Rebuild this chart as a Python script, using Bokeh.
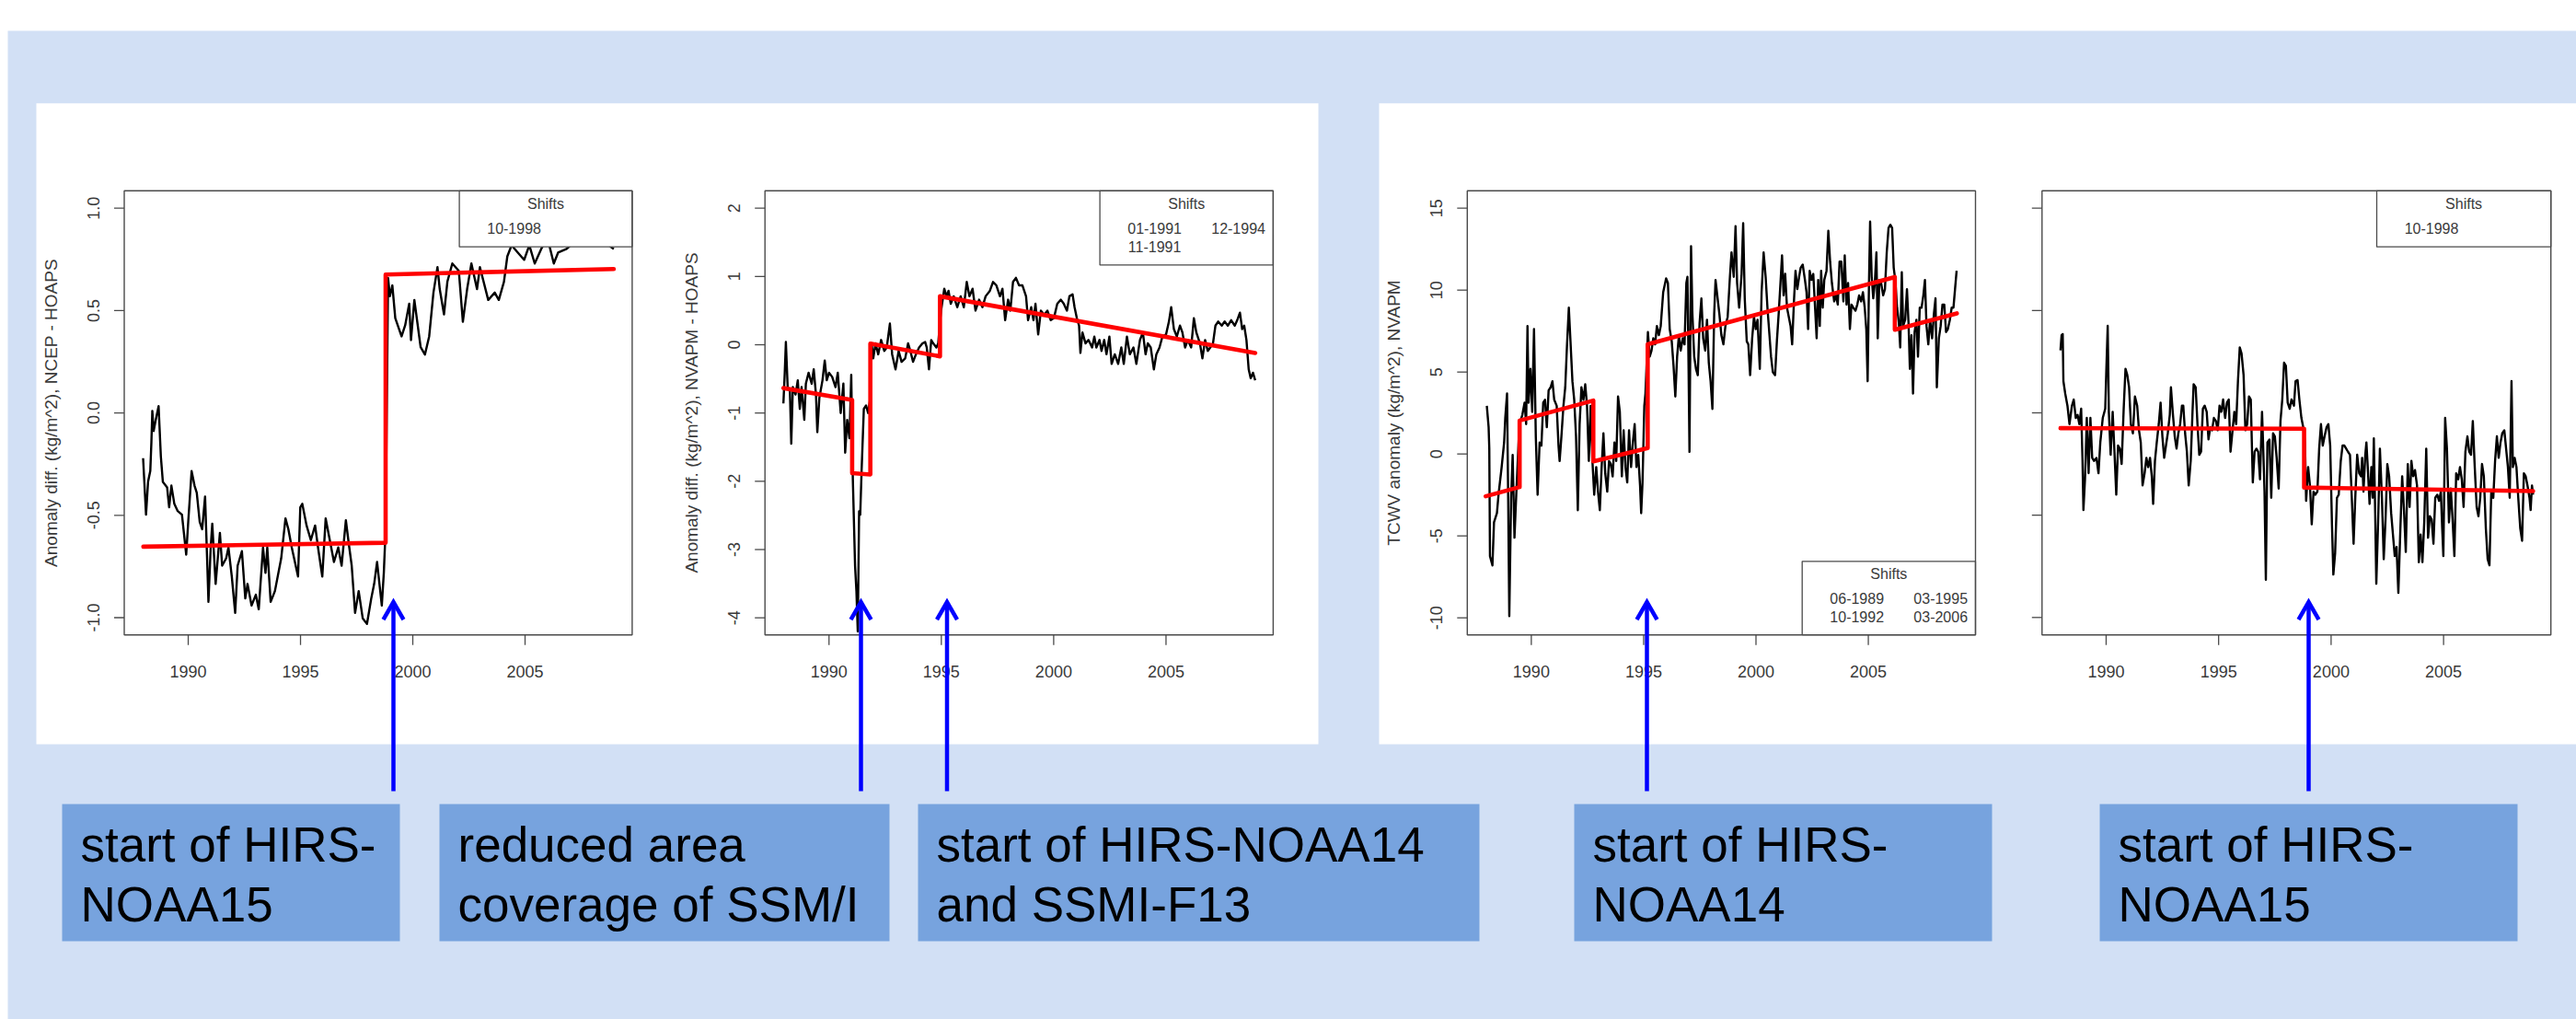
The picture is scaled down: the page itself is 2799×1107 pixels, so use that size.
import math
from bokeh.plotting import figure
from bokeh.models import Range1d
from bokeh.core.properties import value
from bokeh.embed import file_html
from bokeh.resources import INLINE

# ---------------------------------------------------------------- data
P1_YEARS = [1987.99, 1988.12, 1988.21, 1988.31, 1988.36, 1988.40, 1988.46, 1988.55, 1988.68, 1988.78,
            1988.87, 1989.06, 1989.15, 1989.25, 1989.38, 1989.53, 1989.72, 1989.91, 1990.00, 1990.15,
            1990.28, 1990.38, 1990.51, 1990.62, 1990.75, 1990.85, 1990.90, 1991.00, 1991.07, 1991.22,
            1991.41, 1991.51, 1991.69, 1991.79, 1991.94, 1992.09, 1992.20, 1992.39, 1992.54, 1992.64,
            1992.82, 1993.01, 1993.14, 1993.33, 1993.44, 1993.52, 1993.67, 1993.86, 1994.14, 1994.33,
            1994.46, 1994.61, 1994.89, 1994.99, 1995.08, 1995.27, 1995.46, 1995.65, 1995.78, 1995.97,
            1996.12, 1996.49, 1996.68, 1996.83, 1997.02, 1997.15, 1997.28, 1997.43, 1997.59, 1997.77,
            1997.96, 1998.15, 1998.28, 1998.41, 1998.62, 1998.71, 1998.79, 1998.90, 1998.98, 1999.09,
            1999.22, 1999.50, 1999.66, 1999.84, 1999.92, 2000.07, 2000.35, 2000.54, 2000.73, 2000.92,
            2001.10, 2001.20, 2001.39, 2001.54, 2001.76, 2002.05, 2002.23, 2002.42, 2002.61, 2002.86,
            2002.99, 2003.36, 2003.65, 2003.83, 2004.06, 2004.21, 2004.40, 2004.68, 2004.96, 2005.19,
            2005.43, 2005.72, 2006.00, 2006.28, 2006.47, 2006.85, 2007.22, 2007.60, 2007.97, 2008.35,
            2008.73, 2008.95]
P1_VALUES = [-0.221, -0.497, -0.337, -0.283, -0.141, 0.010, -0.088, -0.035, 0.033, -0.212,
             -0.337, -0.364, -0.461, -0.355, -0.444, -0.479, -0.497, -0.692, -0.532, -0.284,
             -0.355, -0.390, -0.532, -0.568, -0.408, -0.746, -0.923, -0.657, -0.541, -0.835,
             -0.586, -0.746, -0.710, -0.657, -0.799, -0.977, -0.746, -0.675, -0.906, -0.835,
             -0.941, -0.888, -0.959, -0.657, -0.781, -0.657, -0.923, -0.870, -0.710, -0.515,
             -0.568, -0.657, -0.799, -0.461, -0.444, -0.550, -0.621, -0.550, -0.657, -0.799,
             -0.515, -0.728, -0.657, -0.746, -0.524, -0.639, -0.746, -0.977, -0.870, -1.003,
             -1.030, -0.906, -0.835, -0.728, -0.941, -0.781, -0.568, 0.659, 0.570, 0.623,
             0.463, 0.374, 0.428, 0.534, 0.356, 0.552, 0.321, 0.285, 0.374, 0.588,
             0.712, 0.605, 0.481, 0.641, 0.730, 0.694, 0.445, 0.605, 0.730, 0.605,
             0.712, 0.552, 0.588, 0.552, 0.641, 0.765, 0.819, 0.783, 0.748, 0.819,
             0.730, 0.801, 0.854, 0.730, 0.783, 0.801, 0.836, 0.819, 0.854, 0.836,
             0.819, 0.801]
P1_FIT_YEARS = [1988.0, 1998.79, 1998.79, 2008.95]
P1_FIT_VALUES = [-0.653, -0.634, 0.676, 0.703]
P1_SHIFTS = ["10-1998"]

P2_YEARS = [1987.97, 1988.03, 1988.08, 1988.16, 1988.26, 1988.32, 1988.39, 1988.51, 1988.61, 1988.70,
            1988.78, 1988.90, 1988.97, 1989.09, 1989.23, 1989.32, 1989.42, 1989.48, 1989.57, 1989.71,
            1989.81, 1989.90, 1990.00, 1990.14, 1990.29, 1990.39, 1990.52, 1990.64, 1990.72, 1990.81,
            1990.91, 1990.99, 1991.06, 1991.16, 1991.22, 1991.28, 1991.34, 1991.39, 1991.45, 1991.55,
            1991.65, 1991.74, 1991.84, 1991.90, 1991.97, 1992.07, 1992.19, 1992.32, 1992.46, 1992.57,
            1992.71, 1992.81, 1992.96, 1993.10, 1993.23, 1993.39, 1993.52, 1993.62, 1993.74, 1993.87,
            1994.01, 1994.16, 1994.28, 1994.35, 1994.45, 1994.55, 1994.64, 1994.78, 1994.86, 1994.94,
            1994.99, 1995.13, 1995.23, 1995.32, 1995.42, 1995.55, 1995.71, 1995.86, 1996.00, 1996.13,
            1996.25, 1996.39, 1996.52, 1996.68, 1996.83, 1996.97, 1997.16, 1997.30, 1997.45, 1997.61,
            1997.72, 1997.84, 1997.97, 1998.07, 1998.19, 1998.32, 1998.46, 1998.61, 1998.77, 1998.86,
            1999.00, 1999.10, 1999.19, 1999.31, 1999.43, 1999.58, 1999.72, 1999.87, 2000.01, 2000.16,
            2000.32, 2000.45, 2000.59, 2000.70, 2000.84, 2000.93, 2001.03, 2001.13, 2001.19, 2001.28,
            2001.42, 2001.55, 2001.71, 2001.81, 2001.90, 2002.04, 2002.13, 2002.25, 2002.35, 2002.48,
            2002.58, 2002.72, 2002.87, 2003.01, 2003.12, 2003.26, 2003.39, 2003.55, 2003.68, 2003.84,
            2003.97, 2004.09, 2004.19, 2004.32, 2004.46, 2004.57, 2004.71, 2004.84, 2005.00, 2005.13,
            2005.23, 2005.35, 2005.48, 2005.62, 2005.73, 2005.85, 2005.97, 2006.12, 2006.24, 2006.35,
            2006.51, 2006.62, 2006.74, 2006.86, 2006.97, 2007.09, 2007.20, 2007.32, 2007.48, 2007.61,
            2007.75, 2007.90, 2008.06, 2008.17, 2008.29, 2008.39, 2008.48, 2008.58, 2008.68, 2008.77,
            2008.87, 2008.97]
P2_VALUES = [-0.86, -0.41, 0.04, -0.62, -0.68, -1.45, -0.62, -0.73, -0.52, -0.94,
             -0.62, -1.10, -0.57, -0.41, -0.57, -0.36, -0.73, -1.28, -0.78, -0.52,
             -0.23, -0.52, -0.41, -0.47, -0.62, -0.41, -1.00, -0.57, -1.58, -1.10,
             -1.37, -0.44, -1.96, -3.24, -3.61, -4.20, -2.44, -2.49, -1.85, -0.94,
             -0.89, -1.00, -0.78, 0.02, -0.20, 0.02, -0.14, 0.07, -0.09, -0.04,
             0.31, -0.14, -0.36, -0.09, -0.25, -0.20, 0.02, -0.09, -0.25, -0.14,
             -0.04, 0.02, 0.04, -0.04, -0.36, 0.07, 0.02, -0.04, 0.02, 0.34,
             0.50, 0.82, 0.71, 0.79, 0.60, 0.71, 0.55, 0.71, 0.55, 0.92,
             0.71, 0.82, 0.50, 0.66, 0.55, 0.71, 0.79, 0.92, 0.87, 0.71,
             0.82, 0.36, 0.66, 0.50, 0.92, 0.98, 0.87, 0.87, 0.71, 0.36,
             0.55, 0.36, 0.60, 0.15, 0.50, 0.44, 0.50, 0.36, 0.39, 0.60,
             0.66, 0.60, 0.50, 0.71, 0.74, 0.55, 0.39, 0.28, -0.12, 0.18,
             0.02, 0.07, -0.04, 0.12, -0.04, 0.07, -0.09, 0.07, -0.14, 0.12,
             -0.28, -0.14, -0.28, -0.04, -0.28, 0.12, -0.14, -0.04, -0.28, 0.07,
             0.18, -0.14, 0.02, -0.04, -0.36, -0.14, -0.04, 0.12, 0.15, 0.34,
             0.55, 0.23, 0.12, 0.28, 0.18, -0.04, 0.07, -0.04, 0.39, 0.18,
             0.02, -0.20, 0.07, -0.09, -0.04, 0.02, 0.28, 0.34, 0.28, 0.34,
             0.28, 0.36, 0.28, 0.36, 0.47, 0.23, 0.28, 0.07, -0.36, -0.49,
             -0.41, -0.52]
P2_FIT_YEARS = [1987.97, 1991.03, 1991.03, 1991.84, 1991.84, 1994.94, 1994.94, 2008.97]
P2_FIT_VALUES = [-0.635, -0.81, -1.88, -1.90, 0.016, -0.17, 0.71, -0.12]
P2_SHIFTS = ["01-1991", "12-1994", "11-1991"]

P3_YEARS = [1988.02, 1988.10, 1988.13, 1988.16, 1988.27, 1988.34, 1988.47, 1988.54, 1988.68, 1988.79,
            1988.84, 1988.92, 1988.97, 1989.02, 1989.10, 1989.17, 1989.25, 1989.33, 1989.47, 1989.60,
            1989.70, 1989.77, 1989.83, 1989.88, 1989.96, 1990.04, 1990.12, 1990.20, 1990.28, 1990.37,
            1990.45, 1990.53, 1990.61, 1990.69, 1990.77, 1990.86, 1990.94, 1991.02, 1991.13, 1991.21,
            1991.26, 1991.34, 1991.43, 1991.51, 1991.59, 1991.67, 1991.75, 1991.83, 1991.91, 1991.99,
            1992.07, 1992.15, 1992.23, 1992.32, 1992.40, 1992.48, 1992.56, 1992.64, 1992.72, 1992.80,
            1992.89, 1992.97, 1993.05, 1993.13, 1993.21, 1993.29, 1993.38, 1993.46, 1993.54, 1993.62,
            1993.70, 1993.78, 1993.86, 1993.94, 1994.03, 1994.11, 1994.19, 1994.27, 1994.35, 1994.44,
            1994.52, 1994.60, 1994.68, 1994.76, 1994.84, 1994.89, 1994.95, 1995.03, 1995.08, 1995.19,
            1995.27, 1995.35, 1995.43, 1995.51, 1995.59, 1995.68, 1995.76, 1995.87, 1996.00, 1996.08,
            1996.16, 1996.25, 1996.33, 1996.41, 1996.49, 1996.57, 1996.65, 1996.74, 1996.82, 1996.90,
            1996.95, 1997.00, 1997.04, 1997.11, 1997.17, 1997.25, 1997.33, 1997.41, 1997.49, 1997.57,
            1997.65, 1997.74, 1997.82, 1997.90, 1997.98, 1998.06, 1998.14, 1998.20, 1998.37, 1998.46,
            1998.55, 1998.64, 1998.74, 1998.84, 1998.91, 1999.01, 1999.09, 1999.16, 1999.25, 1999.36,
            1999.43, 1999.50, 1999.59, 1999.66, 1999.74, 1999.83, 1999.91, 1999.99, 2000.07, 2000.17,
            2000.25, 2000.34, 2000.43, 2000.51, 2000.59, 2000.67, 2000.75, 2000.85, 2000.93, 2001.01,
            2001.09, 2001.16, 2001.23, 2001.30, 2001.38, 2001.46, 2001.54, 2001.61, 2001.69, 2001.76,
            2001.84, 2001.92, 2001.99, 2002.08, 2002.18, 2002.25, 2002.32, 2002.39, 2002.47, 2002.55,
            2002.63, 2002.70, 2002.77, 2002.84, 2002.90, 2002.97, 2003.04, 2003.14, 2003.22, 2003.30,
            2003.38, 2003.48, 2003.56, 2003.64, 2003.72, 2003.80, 2003.89, 2003.95, 2004.03, 2004.10,
            2004.18, 2004.25, 2004.33, 2004.43, 2004.51, 2004.59, 2004.68, 2004.76, 2004.84, 2004.91,
            2004.97, 2005.03, 2005.08, 2005.15, 2005.22, 2005.29, 2005.36, 2005.42, 2005.49, 2005.57,
            2005.66, 2005.74, 2005.82, 2005.90, 2005.98, 2006.06, 2006.13, 2006.20, 2006.28, 2006.36,
            2006.42, 2006.49, 2006.55, 2006.64, 2006.72, 2006.79, 2006.85, 2006.92, 2006.99, 2007.06,
            2007.14, 2007.21, 2007.29, 2007.37, 2007.45, 2007.52, 2007.59, 2007.67, 2007.75, 2007.84,
            2007.92, 2007.99, 2008.05, 2008.14, 2008.22, 2008.30, 2008.38, 2008.46, 2008.54, 2008.63,
            2008.71, 2008.79, 2008.86, 2008.93]
P3_VALUES = [2.94, 1.63, 0.32, -6.24, -6.80, -4.17, -3.61, -2.49, -0.80, 0.70,
             2.19, 3.69, -2.67, -9.89, -2.67, -0.06, -5.11, -2.49, 1.82, 2.38,
             3.13, 1.82, 7.81, 3.13, 5.19, 2.57, 7.62, 1.07, -2.49, 0.70,
             0.51, 3.13, 3.31, 1.63, 3.88, 4.07, 4.44, 3.31, 2.94, 0.51,
             -0.43, 1.07, 2.94, 4.07, 6.69, 8.93, 6.69, 4.44, 3.31, 1.07,
             -3.43, 1.82, 4.07, 3.31, 4.25, 2.94, -0.43, 2.94, -0.43, -2.49,
             -0.80, -2.30, -3.43, -0.80, 1.26, -1.18, -2.30, -0.43, -0.62, -1.37,
             0.70, -0.43, 3.51, 2.57, -1.37, 1.44, -0.80, -1.74, 1.44, -0.80,
             0.70, 1.82, -0.80, -0.06, -1.93, -3.61, -1.74, 2.94, 3.69, 7.44,
             5.94, 6.31, 7.06, 6.69, 7.81, 7.25, 7.81, 9.87, 10.71, 10.43,
             7.62, 6.88, 5.38, 3.51, 5.94, 7.25, 6.31, 7.06, 6.69, 10.43,
             10.81, 5.19, 0.13, 12.68, 8.56, 5.94, 5.19, 4.81, 8.00, 9.49,
             7.06, 6.31, 8.19, 5.56, 4.44, 2.75, 8.56, 10.62, 8.56, 7.25,
             6.69, 7.81, 8.37, 10.81, 12.30, 10.81, 13.90, 10.43, 8.93, 10.99,
             14.08, 9.50, 6.87, 6.69, 4.81, 7.06, 8.37, 7.62, 8.19, 5.19,
             9.87, 12.30, 10.81, 8.93, 7.44, 5.94, 5.00, 4.81, 6.87, 8.56,
             10.43, 12.12, 9.68, 10.99, 8.93, 8.37, 7.81, 6.69, 9.31, 11.18,
             10.06, 10.81, 11.37, 11.56, 10.62, 9.87, 7.62, 11.18, 10.62, 10.99,
             8.93, 7.06, 10.62, 7.81, 11.18, 8.93, 10.62, 11.18, 13.62, 11.74,
             10.43, 9.31, 9.68, 9.12, 11.74, 11.74, 9.31, 12.12, 9.12, 10.43,
             7.62, 9.12, 8.93, 8.75, 9.12, 9.68, 9.31, 9.87, 8.93, 7.62,
             4.44, 10.43, 14.18, 10.81, 9.50, 10.43, 12.30, 7.06, 10.62, 10.43,
             9.68, 10.06, 12.30, 13.80, 13.99, 13.80, 11.37, 10.62, 8.93, 8.00,
             6.50, 11.09, 7.81, 8.19, 10.06, 8.00, 5.19, 7.25, 3.69, 7.44,
             8.19, 5.94, 8.93, 8.93, 9.68, 10.62, 7.81, 6.69, 8.19, 7.06,
             8.56, 9.50, 4.07, 7.06, 7.81, 9.12, 9.12, 7.44, 7.62, 8.19,
             8.93, 8.93, 10.06, 11.18]
P3_FIT_YEARS = [1987.97, 1989.48, 1989.48, 1992.76, 1992.76, 1995.18, 1995.18, 2006.18, 2006.18, 2008.94]
P3_FIT_VALUES = [-2.58, -2.02, 2.04, 3.26, -0.45, 0.36, 6.69, 10.8, 7.58, 8.58]
P3_SHIFTS = ["06-1989", "03-1995", "10-1992", "03-2006"]

P4_YEARS = [1987.97, 1988.02, 1988.07, 1988.10, 1988.18, 1988.28, 1988.37, 1988.48, 1988.56, 1988.65,
            1988.73, 1988.81, 1988.89, 1988.95, 1988.99, 1989.06, 1989.14, 1989.22, 1989.30, 1989.38,
            1989.46, 1989.57, 1989.66, 1989.74, 1989.85, 1989.96, 1990.01, 1990.07, 1990.12, 1990.20,
            1990.29, 1990.37, 1990.45, 1990.53, 1990.61, 1990.69, 1990.78, 1990.86, 1990.94, 1991.02,
            1991.10, 1991.19, 1991.28, 1991.38, 1991.46, 1991.54, 1991.62, 1991.71, 1991.79, 1991.87,
            1991.95, 1992.03, 1992.09, 1992.17, 1992.25, 1992.34, 1992.42, 1992.50, 1992.58, 1992.66,
            1992.74, 1992.83, 1992.88, 1992.96, 1993.05, 1993.13, 1993.21, 1993.29, 1993.37, 1993.43,
            1993.51, 1993.59, 1993.67, 1993.76, 1993.84, 1993.89, 1993.98, 1994.06, 1994.14, 1994.22,
            1994.30, 1994.38, 1994.47, 1994.55, 1994.63, 1994.71, 1994.79, 1994.88, 1994.96, 1995.04,
            1995.12, 1995.20, 1995.29, 1995.37, 1995.45, 1995.53, 1995.62, 1995.70, 1995.78, 1995.86,
            1995.94, 1996.02, 1996.11, 1996.19, 1996.27, 1996.35, 1996.43, 1996.52, 1996.60, 1996.68,
            1996.76, 1996.84, 1996.93, 1996.98, 1997.04, 1997.10, 1997.17, 1997.26, 1997.34, 1997.42,
            1997.50, 1997.58, 1997.67, 1997.75, 1997.83, 1997.91, 1997.99, 1998.07, 1998.16, 1998.24,
            1998.35, 1998.42, 1998.51, 1998.59, 1998.68, 1998.76, 1998.84, 1998.89, 1998.98, 1999.06,
            1999.14, 1999.22, 1999.30, 1999.39, 1999.47, 1999.55, 1999.63, 1999.71, 1999.80, 1999.88,
            1999.96, 2000.04, 2000.10, 2000.18, 2000.26, 2000.34, 2000.43, 2000.51, 2000.59, 2000.67,
            2000.75, 2000.84, 2000.92, 2001.00, 2001.08, 2001.16, 2001.25, 2001.33, 2001.38, 2001.44,
            2001.52, 2001.57, 2001.63, 2001.71, 2001.79, 2001.85, 2001.90, 2001.96, 2002.01, 2002.09,
            2002.17, 2002.26, 2002.34, 2002.42, 2002.50, 2002.58, 2002.67, 2002.75, 2002.83, 2002.91,
            2002.99, 2003.08, 2003.16, 2003.24, 2003.32, 2003.41, 2003.49, 2003.57, 2003.65, 2003.73,
            2003.82, 2003.90, 2003.98, 2004.06, 2004.14, 2004.23, 2004.31, 2004.39, 2004.47, 2004.55,
            2004.63, 2004.72, 2004.80, 2004.88, 2004.94, 2004.99, 2005.07, 2005.15, 2005.24, 2005.32,
            2005.40, 2005.48, 2005.56, 2005.65, 2005.73, 2005.81, 2005.89, 2005.97, 2006.06, 2006.14,
            2006.22, 2006.30, 2006.38, 2006.47, 2006.55, 2006.63, 2006.71, 2006.79, 2006.88, 2006.96,
            2007.04, 2007.12, 2007.21, 2007.29, 2007.37, 2007.45, 2007.53, 2007.61, 2007.70, 2007.78,
            2007.86, 2007.94, 2008.02, 2008.08, 2008.16, 2008.24, 2008.32, 2008.41, 2008.49, 2008.57,
            2008.65, 2008.73, 2008.82, 2008.87, 2008.93, 2008.98]
P4_VALUES = [0.61, 0.76, 0.77, 0.31, 0.19, 0.07, -0.11, 0.07, 0.13, -0.05,
             -0.02, -0.11, 0.04, -0.47, -0.95, -0.65, -0.05, -0.59, -0.05, -0.44,
             -0.47, -0.44, -0.59, -0.29, -0.05, 0.04, 0.43, 0.85, 0.01, -0.41,
             0.01, -0.38, -0.80, -0.32, -0.35, -0.50, 0.04, 0.43, 0.37, 0.25,
             -0.11, -0.20, 0.16, 0.07, -0.17, -0.29, -0.71, -0.59, -0.44, -0.53,
             -0.44, -0.62, -0.89, -0.47, -0.29, -0.11, 0.10, -0.23, -0.44, -0.32,
             -0.20, -0.02, 0.25, 0.01, -0.23, -0.35, -0.20, -0.11, 0.07, 0.07,
             -0.20, -0.38, -0.71, -0.47, 0.01, 0.28, 0.25, -0.11, -0.41, -0.38,
             0.04, 0.07, 0.01, -0.26, -0.14, -0.17, -0.05, -0.08, -0.17, 0.07,
             0.01, 0.13, -0.05, 0.10, 0.13, -0.38, -0.17, 0.01, -0.11, 0.31,
             0.64, 0.58, 0.37, -0.17, -0.11, 0.16, 0.13, -0.68, -0.38, -0.35,
             -0.38, -0.65, 0.01, -0.32, -0.77, -1.63, -0.29, -0.26, -0.83, -0.20,
             -0.23, -0.44, -0.74, -0.08, 0.13, 0.49, 0.46, 0.10, 0.04, 0.13,
             0.07, 0.31, 0.32, 0.13, -0.05, -0.14, -0.29, -0.86, -0.53, -0.71,
             -1.09, -0.77, -0.80, -0.77, -0.35, -0.11, -0.32, -0.23, -0.14, -0.11,
             -0.32, -1.10, -1.58, -1.37, -0.83, -0.80, -0.47, -0.32, -0.32, -0.35,
             -0.38, -0.41, -0.83, -1.28, -0.80, -0.41, -0.59, -0.62, -0.44, -0.77,
             -0.41, -0.29, -0.53, -0.89, -0.53, -0.83, -0.25, -0.98, -1.67, -1.07,
             -0.35, -0.83, -1.43, -1.04, -0.50, -0.62, -0.98, -1.19, -1.40, -1.31,
             -1.76, -1.13, -0.62, -0.95, -1.36, -0.50, -0.92, -0.47, -0.62, -0.56,
             -0.71, -1.46, -1.19, -1.46, -1.07, -0.35, -1.22, -1.01, -1.04, -1.28,
             -0.83, -0.80, -0.86, -0.77, -1.13, -1.40, -0.05, -0.35, -1.07, -0.74,
             -1.04, -1.40, -0.59, -0.65, -0.53, -0.65, -0.92, -0.38, -0.23, -0.38,
             -0.41, -0.08, -0.50, -0.92, -1.01, -0.83, -0.50, -0.62, -1.13, -1.43,
             -1.49, -0.77, -0.83, -0.47, -0.23, -0.44, -0.29, -0.20, -0.17, -0.35,
             -0.53, -0.83, 0.31, -0.53, -0.44, -0.53, -0.83, -1.13, -1.25, -0.59,
             -0.62, -0.71, -0.83, -0.95, -0.71, -0.80]
P4_FIT_YEARS = [1987.97, 1998.80, 1998.80, 2008.98]
P4_FIT_VALUES = [-0.15, -0.155, -0.73, -0.765]
P4_SHIFTS = ["10-1998"]

YEAR_TICKS = [1990, 1995, 2000, 2005]
YEAR_LABELS = ["1990", "1995", "2000", "2005"]
P1_YTICKS = [-1.0, -0.5, 0.0, 0.5, 1.0]
P1_YLABELS = ["-1.0", "-0.5", "0.0", "0.5", "1.0"]
P2_YTICKS = [-4, -3, -2, -1, 0, 1, 2]
P2_YLABELS = ["-4", "-3", "-2", "-1", "0", "1", "2"]
P3_YTICKS = [-10, -5, 0, 5, 10, 15]
P3_YLABELS = ["-10", "-5", "0", "5", "10", "15"]
P4_YTICKS = [-2, -1, 0, 1, 2]
P4_YLABELS = ["", "", "", "", ""]

TITLES = ["Anomaly diff. (kg/m^2), NCEP - HOAPS",
          "Anomaly diff. (kg/m^2), NVAPM - HOAPS",
          "TCWV anomaly (kg/m^2), NVAPM",
          ""]
NOTES = [["start of HIRS-", "NOAA15"],
         ["reduced area", "coverage of SSM/I"],
         ["start of HIRS-NOAA14", "and SSMI-F13"],
         ["start of HIRS-", "NOAA14"],
         ["start of HIRS-", "NOAA15"]]

# ---------------------------------------------------------------- layout (page pixels)
W, H = 2799, 1107


def cx(px):
    return px


def cy(py):
    return H - py


BG = "#D2E0F5"
BOXC = "#77A3DE"
FRAMEC = "#4a4a4a"
TXTC = "#3a3a3a"
FONT = value("Liberation Sans")

XLIM = (1987.15, 2009.77)
FRAMES = [(134.5, 686.4, 206.8, 689.2), (830.7, 1382.9, 206.8, 689.2),
          (1593.8, 2146.0, 206.8, 689.2), (2218.3, 2771.2, 206.8, 689.2)]
YLIMS = [(-1.084, 1.085), (-4.25, 2.255), (-11.04, 16.06), (-2.17, 2.17)]
LEGBOX = [(498.6, 686.4, 206.8, 267.7), (1194.6, 1382.9, 206.8, 287.4),
          (1957.7, 2146.0, 609.3, 689.2), (2582.0, 2771.2, 206.8, 267.7)]
LEG_TOP = [206.8, 206.8, 609.3, 206.8]

p = figure(width=W, height=H, x_range=Range1d(0, W), y_range=Range1d(0, H),
           output_backend="svg", toolbar_location=None, min_border=0,
           x_axis_type=None, y_axis_type=None)
p.outline_line_color = None
p.background_fill_color = "white"
p.border_fill_color = "white"

# background and white panels
p.quad(left=[cx(8)], right=[cx(2810)], bottom=[cy(1120)], top=[cy(33)],
       fill_color=BG, line_color=None)
p.quad(left=[cx(39), cx(1498)], right=[cx(1432), cx(2810)],
       bottom=[cy(808), cy(808)], top=[cy(111.7), cy(111.7)],
       fill_color="white", line_color=None)

panels = [
    (P1_YEARS, P1_VALUES, P1_FIT_YEARS, P1_FIT_VALUES, P1_SHIFTS, P1_YTICKS, P1_YLABELS),
    (P2_YEARS, P2_VALUES, P2_FIT_YEARS, P2_FIT_VALUES, P2_SHIFTS, P2_YTICKS, P2_YLABELS),
    (P3_YEARS, P3_VALUES, P3_FIT_YEARS, P3_FIT_VALUES, P3_SHIFTS, P3_YTICKS, P3_YLABELS),
    (P4_YEARS, P4_VALUES, P4_FIT_YEARS, P4_FIT_VALUES, P4_SHIFTS, P4_YTICKS, P4_YLABELS),
]

xr, yr = {}, {}
for i, (fr, ylim) in enumerate(zip(FRAMES, YLIMS)):
    L, R, T, B = cx(fr[0]), cx(fr[1]), cy(fr[2]), cy(fr[3])
    sx = (R - L) / (XLIM[1] - XLIM[0])
    sy = (T - B) / (ylim[1] - ylim[0])
    xr["x%d" % i] = Range1d(XLIM[0] - L / sx, XLIM[0] + (W - L) / sx)
    yr["y%d" % i] = Range1d(ylim[0] - B / sy, ylim[0] + (H - B) / sy)
p.extra_x_ranges = xr
p.extra_y_ranges = yr

for i, (yrs, vals, fx, fy, shifts, yt, yl) in enumerate(panels):
    xn, yn = "x%d" % i, "y%d" % i
    fr, ylim = FRAMES[i], YLIMS[i]
    n = min(len(yrs), len(vals))
    # data line
    p.line(yrs[:n], vals[:n], x_range_name=xn, y_range_name=yn,
           line_color="black", line_width=2.4, line_join="round")
    # shift fit
    p.line(fx, fy, x_range_name=xn, y_range_name=yn,
           line_color="#FF0000", line_width=4.6, line_join="round", line_cap="round")
    # legend box
    lb = LEGBOX[i]
    p.quad(left=[cx(lb[0])], right=[cx(lb[1])], bottom=[cy(lb[3])], top=[cy(lb[2])],
           fill_color="white", line_color=FRAMEC, line_width=1.3)
    top = LEG_TOP[i]
    p.text(x=[cx((lb[0] + lb[1]) / 2)], y=[cy(top + 14)], text=["Shifts"],
           text_font=FONT, text_font_size="16px", text_color=TXTC,
           text_align="center", text_baseline="middle")
    col_x = [lb[0] + 59.5, lb[0] + 150.5]
    ex, ey = [], []
    for k, s in enumerate(shifts):
        ex.append(cx(col_x[k % 2]))
        ey.append(cy(top + 40.3 + 20 * (k // 2)))
    p.text(x=ex, y=ey, text=shifts, text_font=FONT, text_font_size="16px",
           text_color=TXTC, text_align="center", text_baseline="middle")
    # plot frame
    p.quad(left=[XLIM[0]], right=[XLIM[1]], bottom=[ylim[0]], top=[ylim[1]],
           x_range_name=xn, y_range_name=yn, fill_color=None,
           line_color=FRAMEC, line_width=1.4)
    # x axis
    nt = len(YEAR_TICKS)
    p.segment(x0=YEAR_TICKS, y0=[cy(fr[3])] * nt, x1=YEAR_TICKS, y1=[cy(fr[3] + 11)] * nt,
              x_range_name=xn, line_color=FRAMEC, line_width=1.3)
    p.text(x=YEAR_TICKS, y=[cy(729)] * nt, text=YEAR_LABELS, x_range_name=xn,
           text_font=FONT, text_font_size="18px", text_color=TXTC,
           text_align="center", text_baseline="middle")
    # y axis
    ny = len(yt)
    p.segment(x0=[cx(fr[0])] * ny, y0=yt, x1=[cx(fr[0] - 11)] * ny, y1=yt,
              y_range_name=yn, line_color=FRAMEC, line_width=1.3)
    p.text(x=[cx(fr[0] - 33.5)] * ny, y=yt, text=yl, y_range_name=yn, angle=math.pi / 2,
           text_font=FONT, text_font_size="18px", text_color=TXTC,
           text_align="center", text_baseline="middle")
    if TITLES[i]:
        p.text(x=[cx(fr[0] - 80)], y=[cy((fr[2] + fr[3]) / 2)], text=[TITLES[i]],
               angle=math.pi / 2, text_font=FONT, text_font_size="19px",
               text_color=TXTC, text_align="center", text_baseline="middle")

# arrows
ARROW_X = [427, 935, 1028.5, 1789, 2508]
TIP, BASE = 653.6, 859
p.segment(x0=[cx(a) for a in ARROW_X], y0=[cy(BASE)] * 5,
          x1=[cx(a) for a in ARROW_X], y1=[cy(TIP + 2)] * 5,
          line_color="#0000FF", line_width=4.5)
p.multi_line(xs=[[cx(a) - 11, cx(a), cx(a) + 11] for a in ARROW_X],
             ys=[[cy(TIP + 19), cy(TIP), cy(TIP + 19)] for a in ARROW_X],
             line_color="#0000FF", line_width=4.5, line_join="miter")

# note boxes
BOXES = [(67, 434), (477, 966), (997, 1607), (1710, 2164), (2281, 2735)]
p.quad(left=[cx(b[0]) for b in BOXES], right=[cx(b[1]) for b in BOXES],
       bottom=[cy(1022)] * 5, top=[cy(873)] * 5, fill_color=BOXC, line_color=None)
tx, ty, tt = [], [], []
for b, lines in zip(BOXES, NOTES):
    for j, ln in enumerate(lines):
        tx.append(cx(b[0] + 20))
        ty.append(cy(917 + 65 * j))
        tt.append(ln)
p.text(x=tx, y=ty, text=tt, text_font=FONT, text_font_size="53px",
       text_color="black", text_align="left", text_baseline="alphabetic")

open("out.html", "w").write(file_html(p, INLINE))
